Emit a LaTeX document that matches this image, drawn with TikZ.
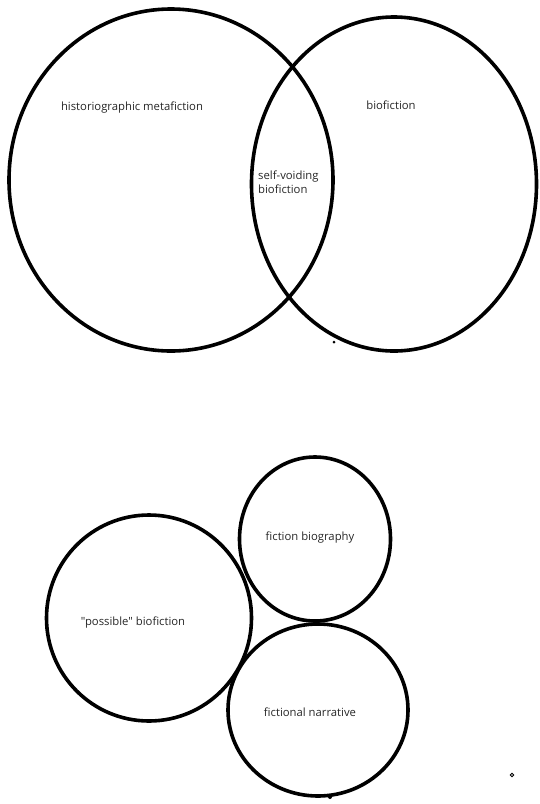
\documentclass[tikz,border=0pt]{standalone}
\usepackage{fontspec}
\setmainfont{Open Sans}[Ligatures=TeXOff]
\usepackage{tikz}
\usetikzlibrary{shapes.geometric}

\begin{document}
\begin{tikzpicture}[x=1pt,y=-1pt,
ring/.style={draw,ellipse,line width=3.6pt,inner sep=0pt},
lbl/.style={font=\fontsize{11.3}{14}\selectfont,text=black!85,align=left,inner sep=0pt},
speck/.style={circle,fill,inner sep=0pt,minimum size=#1}]
\useasboundingbox (0,0) rectangle (539,804);
% upper pair
\node[ring,minimum width=324pt,minimum height=342pt] (histo) at (171,180) {};
\node[ring,minimum width=285pt,minimum height=334pt] (bio) at (394,184) {};
\node[lbl] (histolbl) at (132,108) {historiographic metafiction};
\node[lbl] (biolbl) at (391,105) {biofiction};
\node[lbl,anchor=west] (selflbl) at (258,182) {self-voiding\\biofiction};
\node[speck=3pt] (dotA) at (334,342) {};
% lower three
\node[ring,minimum width=205pt,minimum height=206pt] (possible) at (149,618) {};
\node[ring,minimum width=151pt,minimum height=164pt] (fictbio) at (315,539) {};
\node[ring,minimum width=180pt,minimum height=172pt] (fictnarr) at (318,710) {};
\node[lbl] (possiblelbl) at (133,623) {"possible" biofiction};
\node[lbl] (fictbiolbl) at (310,538) {fiction biography};
\node[lbl] (fictnarrlbl) at (310,712) {fictional narrative};
\node[speck=4pt] (dotB) at (330,797) {};
\node[circle,draw,line width=1pt,inner sep=0pt,minimum size=3.5pt] (dotC) at (512,775) {};
\end{tikzpicture}
\end{document}
